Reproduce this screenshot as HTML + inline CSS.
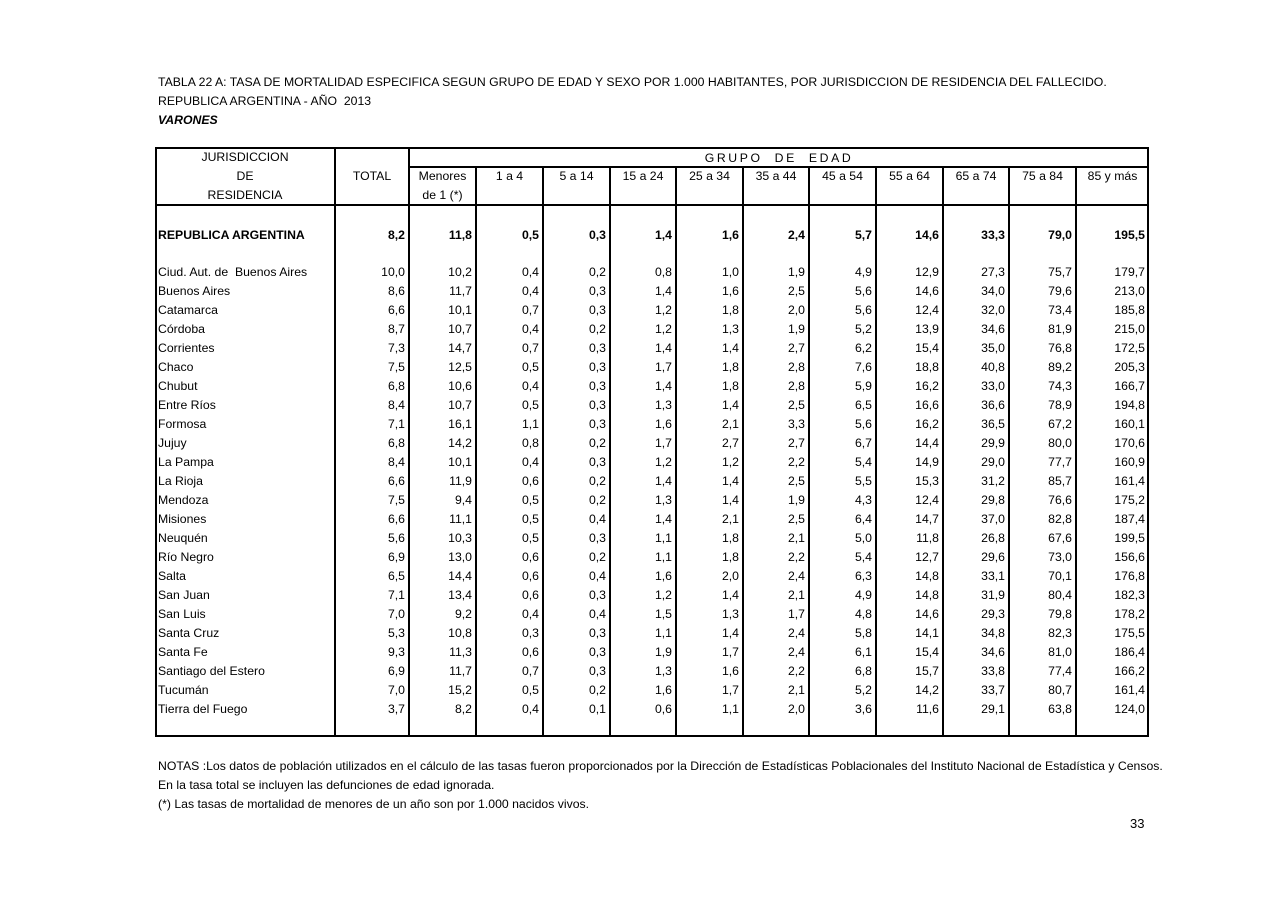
<!DOCTYPE html>
<html><head><meta charset="utf-8"><style>
body{margin:0;width:1280px;height:905px;background:#fff;position:relative;font-family:"Liberation Sans",sans-serif;font-size:12.25px;color:#000;overflow:hidden}
.a{position:absolute;white-space:nowrap}
.l{position:absolute;background:#000}
table{position:absolute;left:155px;width:994px;border-collapse:collapse;table-layout:fixed}
td{padding:0 4px 0 3px;height:19px;text-align:right;white-space:nowrap;overflow:hidden;line-height:19px}
td:first-child{text-align:left}
.h td{text-align:center;padding:0}
</style></head><body>
<div class="a" style="left:158px;top:75px">TABLA 22 A: TASA DE MORTALIDAD ESPECIFICA SEGUN GRUPO DE EDAD Y SEXO POR 1.000 HABITANTES, POR JURISDICCION DE RESIDENCIA DEL FALLECIDO.</div>
<div class="a" style="left:158px;top:94px">REPUBLICA ARGENTINA - AÑO&nbsp; 2013</div>
<div class="a" style="left:158px;top:113px;font-weight:bold;font-style:italic">VARONES</div>

<div class="l" style="left:155px;top:147px;width:994px;height:2px"></div>
<div class="l" style="left:155px;top:735px;width:994px;height:2px"></div>
<div class="l" style="left:155px;top:147px;width:2px;height:590px"></div>
<div class="l" style="left:1147px;top:147px;width:2px;height:590px"></div>
<div class="l" style="left:334px;top:147px;width:2px;height:590px"></div>
<div class="l" style="left:408px;top:147px;width:2px;height:590px"></div>
<div class="l" style="left:408px;top:166px;width:741px;height:2px"></div>
<div class="l" style="left:155px;top:204px;width:994px;height:2px"></div>
<div class="l" style="left:475px;top:166px;width:2px;height:571px"></div>
<div class="l" style="left:542px;top:166px;width:2px;height:571px"></div>
<div class="l" style="left:609px;top:166px;width:2px;height:571px"></div>
<div class="l" style="left:675px;top:166px;width:2px;height:571px"></div>
<div class="l" style="left:742px;top:166px;width:2px;height:571px"></div>
<div class="l" style="left:808px;top:166px;width:2px;height:571px"></div>
<div class="l" style="left:875px;top:166px;width:2px;height:571px"></div>
<div class="l" style="left:942px;top:166px;width:2px;height:571px"></div>
<div class="l" style="left:1008px;top:166px;width:2px;height:571px"></div>
<div class="l" style="left:1075px;top:166px;width:2px;height:571px"></div>

<div class="a" style="left:409px;width:740px;top:151px;text-align:center;letter-spacing:2.6px">GRUPO&nbsp; DE&nbsp; EDAD</div>
<table class="h" style="top:148px">
<colgroup><col style="width:180px"><col style="width:74px"><col style="width:67px"><col style="width:67px"><col style="width:67px"><col style="width:66px"><col style="width:67px"><col style="width:66px"><col style="width:67px"><col style="width:67px"><col style="width:66px"><col style="width:67px"><col style="width:73px"></colgroup>
<tr><td style="text-align:center">JURISDICCION</td><td></td><td></td><td></td><td></td><td></td><td></td><td></td><td></td><td></td><td></td><td></td><td></td></tr>
<tr><td style="text-align:center">DE</td><td>TOTAL</td><td>Menores</td><td>1 a 4</td><td>5 a 14</td><td>15 a 24</td><td>25 a 34</td><td>35 a 44</td><td>45 a 54</td><td>55 a 64</td><td>65 a 74</td><td>75 a 84</td><td>85 y más</td></tr>
<tr><td style="text-align:center">RESIDENCIA</td><td></td><td>de 1 (*)</td><td></td><td></td><td></td><td></td><td></td><td></td><td></td><td></td><td></td><td></td></tr>
</table>

<table style="top:226px;font-weight:bold">
<colgroup><col style="width:180px"><col style="width:74px"><col style="width:67px"><col style="width:67px"><col style="width:67px"><col style="width:66px"><col style="width:67px"><col style="width:66px"><col style="width:67px"><col style="width:67px"><col style="width:66px"><col style="width:67px"><col style="width:73px"></colgroup>
<tr><td>REPUBLICA ARGENTINA</td><td>8,2</td><td>11,8</td><td>0,5</td><td>0,3</td><td>1,4</td><td>1,6</td><td>2,4</td><td>5,7</td><td>14,6</td><td>33,3</td><td>79,0</td><td>195,5</td></tr>
</table>

<table style="top:263px">
<colgroup><col style="width:180px"><col style="width:74px"><col style="width:67px"><col style="width:67px"><col style="width:67px"><col style="width:66px"><col style="width:67px"><col style="width:66px"><col style="width:67px"><col style="width:67px"><col style="width:66px"><col style="width:67px"><col style="width:73px"></colgroup>
<tr><td>Ciud. Aut. de&nbsp; Buenos Aires</td><td>10,0</td><td>10,2</td><td>0,4</td><td>0,2</td><td>0,8</td><td>1,0</td><td>1,9</td><td>4,9</td><td>12,9</td><td>27,3</td><td>75,7</td><td>179,7</td></tr>
<tr><td>Buenos Aires</td><td>8,6</td><td>11,7</td><td>0,4</td><td>0,3</td><td>1,4</td><td>1,6</td><td>2,5</td><td>5,6</td><td>14,6</td><td>34,0</td><td>79,6</td><td>213,0</td></tr>
<tr><td>Catamarca</td><td>6,6</td><td>10,1</td><td>0,7</td><td>0,3</td><td>1,2</td><td>1,8</td><td>2,0</td><td>5,6</td><td>12,4</td><td>32,0</td><td>73,4</td><td>185,8</td></tr>
<tr><td>Córdoba</td><td>8,7</td><td>10,7</td><td>0,4</td><td>0,2</td><td>1,2</td><td>1,3</td><td>1,9</td><td>5,2</td><td>13,9</td><td>34,6</td><td>81,9</td><td>215,0</td></tr>
<tr><td>Corrientes</td><td>7,3</td><td>14,7</td><td>0,7</td><td>0,3</td><td>1,4</td><td>1,4</td><td>2,7</td><td>6,2</td><td>15,4</td><td>35,0</td><td>76,8</td><td>172,5</td></tr>
<tr><td>Chaco</td><td>7,5</td><td>12,5</td><td>0,5</td><td>0,3</td><td>1,7</td><td>1,8</td><td>2,8</td><td>7,6</td><td>18,8</td><td>40,8</td><td>89,2</td><td>205,3</td></tr>
<tr><td>Chubut</td><td>6,8</td><td>10,6</td><td>0,4</td><td>0,3</td><td>1,4</td><td>1,8</td><td>2,8</td><td>5,9</td><td>16,2</td><td>33,0</td><td>74,3</td><td>166,7</td></tr>
<tr><td>Entre Ríos</td><td>8,4</td><td>10,7</td><td>0,5</td><td>0,3</td><td>1,3</td><td>1,4</td><td>2,5</td><td>6,5</td><td>16,6</td><td>36,6</td><td>78,9</td><td>194,8</td></tr>
<tr><td>Formosa</td><td>7,1</td><td>16,1</td><td>1,1</td><td>0,3</td><td>1,6</td><td>2,1</td><td>3,3</td><td>5,6</td><td>16,2</td><td>36,5</td><td>67,2</td><td>160,1</td></tr>
<tr><td>Jujuy</td><td>6,8</td><td>14,2</td><td>0,8</td><td>0,2</td><td>1,7</td><td>2,7</td><td>2,7</td><td>6,7</td><td>14,4</td><td>29,9</td><td>80,0</td><td>170,6</td></tr>
<tr><td>La Pampa</td><td>8,4</td><td>10,1</td><td>0,4</td><td>0,3</td><td>1,2</td><td>1,2</td><td>2,2</td><td>5,4</td><td>14,9</td><td>29,0</td><td>77,7</td><td>160,9</td></tr>
<tr><td>La Rioja</td><td>6,6</td><td>11,9</td><td>0,6</td><td>0,2</td><td>1,4</td><td>1,4</td><td>2,5</td><td>5,5</td><td>15,3</td><td>31,2</td><td>85,7</td><td>161,4</td></tr>
<tr><td>Mendoza</td><td>7,5</td><td>9,4</td><td>0,5</td><td>0,2</td><td>1,3</td><td>1,4</td><td>1,9</td><td>4,3</td><td>12,4</td><td>29,8</td><td>76,6</td><td>175,2</td></tr>
<tr><td>Misiones</td><td>6,6</td><td>11,1</td><td>0,5</td><td>0,4</td><td>1,4</td><td>2,1</td><td>2,5</td><td>6,4</td><td>14,7</td><td>37,0</td><td>82,8</td><td>187,4</td></tr>
<tr><td>Neuquén</td><td>5,6</td><td>10,3</td><td>0,5</td><td>0,3</td><td>1,1</td><td>1,8</td><td>2,1</td><td>5,0</td><td>11,8</td><td>26,8</td><td>67,6</td><td>199,5</td></tr>
<tr><td>Río Negro</td><td>6,9</td><td>13,0</td><td>0,6</td><td>0,2</td><td>1,1</td><td>1,8</td><td>2,2</td><td>5,4</td><td>12,7</td><td>29,6</td><td>73,0</td><td>156,6</td></tr>
<tr><td>Salta</td><td>6,5</td><td>14,4</td><td>0,6</td><td>0,4</td><td>1,6</td><td>2,0</td><td>2,4</td><td>6,3</td><td>14,8</td><td>33,1</td><td>70,1</td><td>176,8</td></tr>
<tr><td>San Juan</td><td>7,1</td><td>13,4</td><td>0,6</td><td>0,3</td><td>1,2</td><td>1,4</td><td>2,1</td><td>4,9</td><td>14,8</td><td>31,9</td><td>80,4</td><td>182,3</td></tr>
<tr><td>San Luis</td><td>7,0</td><td>9,2</td><td>0,4</td><td>0,4</td><td>1,5</td><td>1,3</td><td>1,7</td><td>4,8</td><td>14,6</td><td>29,3</td><td>79,8</td><td>178,2</td></tr>
<tr><td>Santa Cruz</td><td>5,3</td><td>10,8</td><td>0,3</td><td>0,3</td><td>1,1</td><td>1,4</td><td>2,4</td><td>5,8</td><td>14,1</td><td>34,8</td><td>82,3</td><td>175,5</td></tr>
<tr><td>Santa Fe</td><td>9,3</td><td>11,3</td><td>0,6</td><td>0,3</td><td>1,9</td><td>1,7</td><td>2,4</td><td>6,1</td><td>15,4</td><td>34,6</td><td>81,0</td><td>186,4</td></tr>
<tr><td>Santiago del Estero</td><td>6,9</td><td>11,7</td><td>0,7</td><td>0,3</td><td>1,3</td><td>1,6</td><td>2,2</td><td>6,8</td><td>15,7</td><td>33,8</td><td>77,4</td><td>166,2</td></tr>
<tr><td>Tucumán</td><td>7,0</td><td>15,2</td><td>0,5</td><td>0,2</td><td>1,6</td><td>1,7</td><td>2,1</td><td>5,2</td><td>14,2</td><td>33,7</td><td>80,7</td><td>161,4</td></tr>
<tr><td>Tierra del Fuego</td><td>3,7</td><td>8,2</td><td>0,4</td><td>0,1</td><td>0,6</td><td>1,1</td><td>2,0</td><td>3,6</td><td>11,6</td><td>29,1</td><td>63,8</td><td>124,0</td></tr>
</table>

<div class="a" style="left:158px;top:759px">NOTAS :Los datos de población utilizados en el cálculo de las tasas fueron proporcionados por la Dirección de Estadísticas Poblacionales del Instituto Nacional de Estadística y Censos.</div>
<div class="a" style="left:158px;top:778px">En la tasa total se incluyen las defunciones de edad ignorada.</div>
<div class="a" style="left:158px;top:797px">(*) Las tasas de mortalidad de menores de un año son por 1.000 nacidos vivos.</div>
<div class="a" style="left:1130px;top:816px;font-size:13px">33</div>
</body></html>
